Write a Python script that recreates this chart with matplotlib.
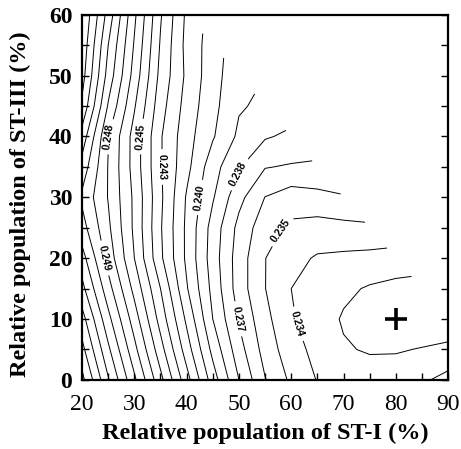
import numpy as np
import matplotlib
matplotlib.use("Agg")
import matplotlib.pyplot as plt
from matplotlib.ticker import MultipleLocator

# grid of the map (ST-I on x, ST-III on y, in %)
st1 = [20, 25, 30, 35, 40, 45, 50, 55, 60, 65, 70, 75, 80, 85, 90]
st3 = [0, 5, 10, 15, 20, 25, 30, 35, 40, 45, 50, 55, 60]
nan = np.nan
# one row per ST-III value (nan = outside ST-I + ST-III <= 100)
z_rows = [
    [0.2553, 0.2521, 0.2492, 0.2463, 0.2434, 0.2405, 0.2380, 0.23605, 0.2348, 0.23395, 0.2337, 0.2335, 0.2336, 0.23385, 0.2343],
    [0.2543, 0.2512, 0.2483, 0.2454, 0.2425, 0.2397, 0.2374, 0.2356, 0.2344, 0.2337, 0.2331, 0.2329, 0.2329, 0.23306, 0.2333],
    [0.2534, 0.2503, 0.2475, 0.2446, 0.2418, 0.2390, 0.2369, 0.2353, 0.2341, 0.2335, 0.2329, 0.2325, 0.2323, 0.2322, 0.2321],
    [0.2523, 0.2494, 0.2467, 0.2440, 0.2411, 0.2387, 0.2365, 0.23502, 0.2340, 0.2336, 0.2332, 0.2329, 0.2327, 0.2326, nan],
    [0.2514, 0.2486, 0.2460, 0.2432, 0.2408, 0.2385, 0.2365, 0.23502, 0.2343, 0.2339, 0.2338, 0.2337, 0.2336, nan, nan],
    [0.2504, 0.2482, 0.2458, 0.2431, 0.2408, 0.2386, 0.2367, 0.2354, 0.2348, 0.2346, 0.2347, 0.2348, nan, nan, nan],
    [0.2498, 0.24795, 0.2458, 0.2432, 0.2409, 0.2391, 0.2373, 0.23598, 0.2355, 0.2357, 0.2359, nan, nan, nan, nan],
    [0.2506, 0.24795, 0.2456, 0.2431, 0.2413, 0.2394, 0.2381, 0.23705, 0.2369, 0.2368, nan, nan, nan, nan, nan],
    [0.2516, 0.24805, 0.2456, 0.2431, 0.2414, 0.2401, 0.2388, 0.2381, 0.2378, nan, nan, nan, nan, nan, nan],
    [0.2528, 0.2489, 0.2461, 0.2434, 0.2416, 0.2403, 0.2391, 0.2388, nan, nan, nan, nan, nan, nan, nan],
    [0.2534, 0.2496, 0.2466, 0.2437, 0.2418, 0.2404, 0.2393, nan, nan, nan, nan, nan, nan, nan, nan],
    [0.2537, 0.2500, 0.2469, 0.2439, 0.2417, 0.2405, nan, nan, nan, nan, nan, nan, nan, nan, nan],
    [0.2540, 0.2506, 0.2472, 0.2441, 0.2418, nan, nan, nan, nan, nan, nan, nan, nan, nan, nan],
]
levels = np.round(np.arange(0.233, 0.2555, 0.001), 3)
best_fit = (80, 10)

# where the labels sit (0.234, 0.235, 0.237, 0.238, 0.240, 0.243, 0.245, 0.248, 0.249)
label_pos = [(60.6, 9), (57.0, 25), (49.7, 10), (49.5, 34), (42.3, 30),
             (35.3, 35), (31.2, 40), (25.0, 40), (24.2, 20)]

X, Y = np.meshgrid(st1, st3)
Z = np.ma.masked_invalid(np.array(z_rows))

fig = plt.figure(figsize=(4.61, 4.49), dpi=100)
ax = fig.add_axes([0.178, 0.154, 0.794, 0.813])

cs = ax.contour(X, Y, Z, levels=levels, colors="black", linewidths=0.7)
texts = ax.clabel(cs, manual=label_pos, fmt="%.3f", inline=True,
                  fontsize=7.5, inline_spacing=3)
for t in texts:
    t.set_fontweight("bold")
    t.set_family("Liberation Sans")

ax.plot(best_fit[0], best_fit[1], marker="+", color="black", markersize=16, mew=2.6)

ax.set_xlim(20, 90)
ax.set_ylim(0, 60)
ax.xaxis.set_major_locator(MultipleLocator(10))
ax.xaxis.set_minor_locator(MultipleLocator(5))
ax.yaxis.set_major_locator(MultipleLocator(10))
ax.yaxis.set_minor_locator(MultipleLocator(5))
ax.tick_params(which="both", direction="in", length=5, width=1, right=True, top=False)
ax.tick_params(axis="x", which="major", pad=10)
ax.tick_params(axis="y", which="major", pad=7)

for s in ax.spines.values():
    s.set_linewidth(1.6)

for lab in ax.get_xticklabels():
    lab.set_fontfamily("Liberation Serif")
    lab.set_fontsize(17)
for lab in ax.get_yticklabels():
    lab.set_fontfamily("Liberation Serif")
    lab.set_fontsize(17)
    lab.set_fontweight("bold")

ax.set_xlabel("Relative population of ST-I (%)", fontfamily="Liberation Serif",
              fontsize=17.5, fontweight="bold", labelpad=6)
ax.set_ylabel("Relative population of ST-III (%)", fontfamily="Liberation Serif",
              fontsize=17.5, fontweight="bold")
ax.yaxis.set_label_coords(-0.14, 0.48)

fig.savefig("out.png", dpi=100)
